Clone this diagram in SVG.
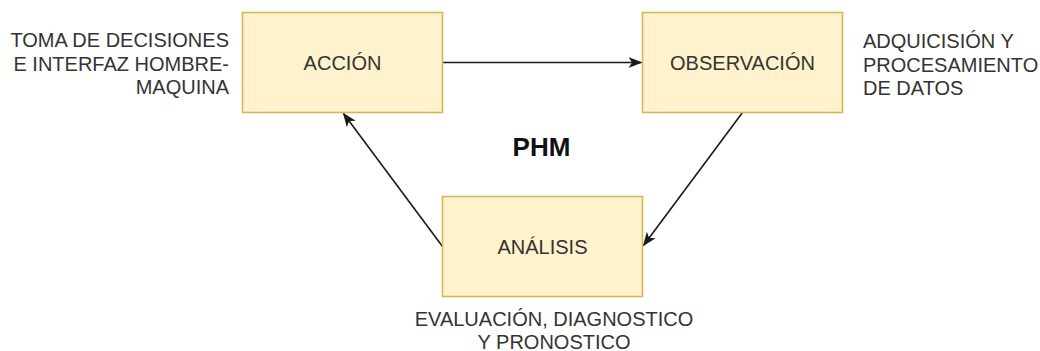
<svg xmlns="http://www.w3.org/2000/svg" width="1040" height="351" viewBox="0 0 1040 351">
  <style>
    .box { fill: #fff2cc; stroke: #d6b656; stroke-width: 1.6; }
    .lbl { font-family: "Liberation Sans", Arial, sans-serif; font-size: 20px; fill: #333333; }
    .mid { text-anchor: middle; }
    .end { text-anchor: end; }
    .title { font-family: "Liberation Sans", Arial, sans-serif; font-size: 26px; font-weight: bold; fill: #111111; text-anchor: middle; }
    .edge { fill: none; stroke: #1a1a1a; stroke-width: 1.6; marker-end: url(#arrow); }
  </style>
  <defs>
    <marker id="arrow" viewBox="0 0 14 12" refX="13" refY="6" markerWidth="14" markerHeight="12" markerUnits="userSpaceOnUse" orient="auto">
      <path d="M0,0.5 L14,6 L0,11.5 L3.5,6 Z" fill="#1a1a1a"/>
    </marker>
  </defs>

  <rect width="1040" height="351" fill="#ffffff"/>

  <!-- connectors -->
  <g id="connectors">
    <path class="edge" d="M442.5,62.5 L641.5,62.5"/>
    <path class="edge" d="M742.5,112.5 L643.5,245.5"/>
    <path class="edge" d="M442.5,246.5 L343.5,113.5"/>
  </g>

  <!-- action node -->
  <g id="accion">
    <rect class="box" x="242.5" y="12.5" width="200" height="100"/>
    <text class="lbl mid" x="342.5" y="70">ACCIÓN</text>
  </g>

  <!-- observation node -->
  <g id="observacion">
    <rect class="box" x="642.5" y="12.5" width="200" height="100"/>
    <text class="lbl mid" x="742.5" y="70">OBSERVACIÓN</text>
  </g>

  <!-- analysis node -->
  <g id="analisis">
    <rect class="box" x="442.5" y="196.5" width="200" height="100"/>
    <text class="lbl mid" x="542.5" y="254">ANÁLISIS</text>
  </g>

  <!-- side captions -->
  <g id="caption-accion">
    <text class="lbl end" x="229" y="47">TOMA DE DECISIONES</text>
    <text class="lbl end" x="229" y="70.5">E INTERFAZ HOMBRE-</text>
    <text class="lbl end" x="229" y="94">MAQUINA</text>
  </g>
  <g id="caption-observacion">
    <text class="lbl" x="863" y="48">ADQUICISIÓN Y</text>
    <text class="lbl" x="863" y="71.5">PROCESAMIENTO</text>
    <text class="lbl" x="863" y="95">DE DATOS</text>
  </g>
  <g id="caption-analisis">
    <text class="lbl mid" x="554" y="326">EVALUACIÓN, DIAGNOSTICO</text>
    <text class="lbl mid" x="554" y="348.5">Y PRONOSTICO</text>
  </g>

  <g id="phm">
    <text class="title" x="541.5" y="156">PHM</text>
  </g>
</svg>
